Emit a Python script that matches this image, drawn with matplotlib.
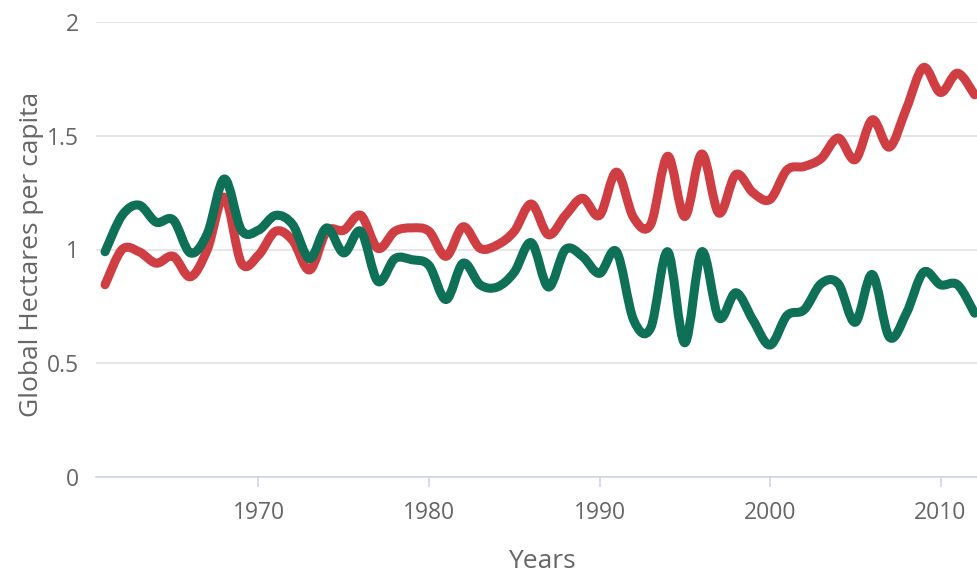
import numpy as np
import matplotlib
matplotlib.use("Agg")
import matplotlib.pyplot as plt
from matplotlib.path import Path
from matplotlib.patches import PathPatch

years = list(range(1961, 2013))

# red series (upper line after the 1980s)
footprint = [0.845, 1.00, 0.99, 0.94, 0.97, 0.88, 1.00, 1.23, 0.94, 0.975,
             1.08, 1.04, 0.91, 1.08, 1.085, 1.15, 1.005, 1.08, 1.095, 1.08,
             0.97, 1.10, 1.005, 1.02, 1.08, 1.20, 1.065, 1.15, 1.225, 1.15,
             1.34, 1.14, 1.11, 1.41, 1.145, 1.42, 1.16, 1.33, 1.25, 1.22,
             1.35, 1.365, 1.40, 1.49, 1.395, 1.57, 1.45, 1.62, 1.80, 1.69,
             1.775, 1.68]

# green series
biocapacity = [0.99, 1.15, 1.195, 1.12, 1.13, 0.985, 1.07, 1.31, 1.085, 1.085,
               1.15, 1.11, 0.96, 1.095, 0.985, 1.08, 0.86, 0.96, 0.955, 0.93,
               0.78, 0.94, 0.845, 0.835, 0.90, 1.03, 0.835, 1.00, 0.97, 0.895,
               0.99, 0.69, 0.655, 0.99, 0.59, 0.99, 0.70, 0.81, 0.69, 0.58,
               0.71, 0.735, 0.85, 0.85, 0.68, 0.89, 0.615, 0.72, 0.90, 0.845,
               0.845, 0.72]

x_ticks = [1970, 1980, 1990, 2000, 2010]
y_ticks = [0, 0.5, 1, 1.5, 2]
y_tick_labels = ["0", "0.5", "1", "1.5", "2"]


def spline_path(xs, ys):
    # Catmull-Rom turned into cubic bezier segments
    xs = np.asarray(xs, float)
    ys = np.asarray(ys, float)
    pts = np.column_stack([xs, ys])
    verts = [pts[0]]
    codes = [Path.MOVETO]
    n = len(pts)
    for i in range(n - 1):
        p0 = pts[max(i - 1, 0)]
        p1 = pts[i]
        p2 = pts[i + 1]
        p3 = pts[min(i + 2, n - 1)]
        c1 = p1 + (p2 - p0) / 6.0
        c2 = p2 - (p3 - p1) / 6.0
        verts += [c1, c2, p2]
        codes += [Path.CURVE4] * 3
    return Path(verts, codes)


plt.rcParams['font.family'] = ['Open Sans', 'DejaVu Sans']

fig = plt.figure(figsize=(9.77, 5.73), dpi=100)
ax = fig.add_axes([96 / 977, 1 - 477 / 573, 881 / 977, 455 / 573])

for vals, col in [(footprint, "#cf3e42"), (biocapacity, "#0e7157")]:
    patch = PathPatch(spline_path(years, vals), facecolor="none", edgecolor=col,
                      lw=6.5, capstyle="round", joinstyle="round", zorder=3)
    ax.add_patch(patch)

ax.set_xlim(1960.47, 2012.14)
ax.set_ylim(0, 2)
ax.set_yticks(y_ticks)
ax.set_yticklabels(y_tick_labels)
ax.set_xticks(x_ticks)

ax.grid(axis="y", color="#e2e2e2", lw=1.2, zorder=0)
ax.set_axisbelow(True)
for s in ["top", "right", "left"]:
    ax.spines[s].set_visible(False)
ax.spines["bottom"].set_color("#ccd6eb")
ax.spines["bottom"].set_linewidth(1.2)

ax.tick_params(axis="x", colors="#ccd6eb", length=7.5, width=1.2, pad=10,
               labelcolor="#666666", labelsize=16.5)
ax.tick_params(axis="y", length=0, pad=12, labelcolor="#666666", labelsize=16.5)

fig.text(542 / 977, 1 - 561 / 573, "Years", ha="center", va="center",
         color="#666666", fontsize=19)
fig.text(32 / 977, 1 - 254 / 573, "Global Hectares per capita", ha="center",
         va="center", rotation=90, color="#666666", fontsize=19)

fig.savefig("out.png", dpi=100)
